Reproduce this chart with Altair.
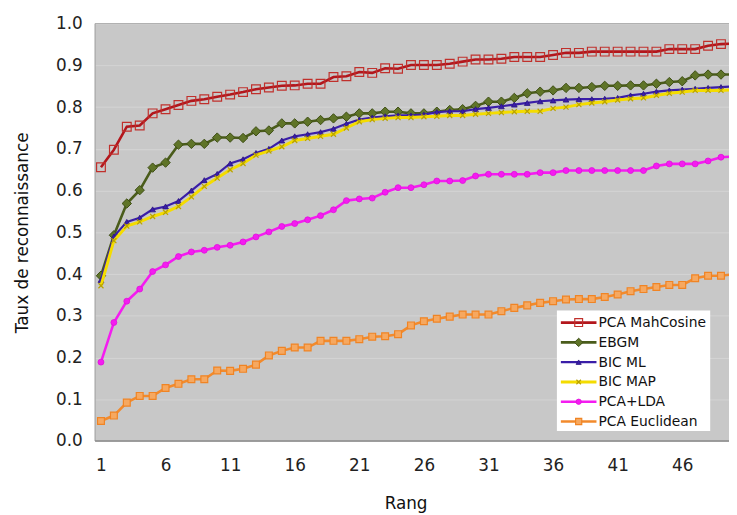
import altair as alt
import pandas as pd

# ---------------- data ----------------
ranks = list(range(1, 51))
series_names = ["PCA MahCosine", "EBGM", "BIC ML", "BIC MAP", "PCA+LDA", "PCA Euclidean"]
x_tick_values = [1, 6, 11, 16, 21, 26, 31, 36, 41, 46]
y_tick_values = [0.0, 0.1, 0.2, 0.3, 0.4, 0.5, 0.6, 0.7, 0.8, 0.9, 1.0]

pca_mahcosine = [0.656, 0.698, 0.753, 0.756, 0.785, 0.795, 0.805, 0.815, 0.819, 0.825,
                 0.830, 0.836, 0.843, 0.847, 0.851, 0.852, 0.856, 0.856, 0.872, 0.874,
                 0.884, 0.882, 0.893, 0.892, 0.901, 0.901, 0.901, 0.904, 0.909, 0.914,
                 0.914, 0.916, 0.920, 0.920, 0.920, 0.925, 0.930, 0.930, 0.933, 0.933,
                 0.933, 0.933, 0.933, 0.933, 0.939, 0.939, 0.939, 0.947, 0.951, 0.952]
ebgm = [0.396, 0.493, 0.569, 0.601, 0.655, 0.667, 0.710, 0.712, 0.712, 0.727,
        0.727, 0.726, 0.742, 0.744, 0.761, 0.761, 0.765, 0.769, 0.773, 0.777,
        0.785, 0.785, 0.789, 0.789, 0.785, 0.785, 0.789, 0.793, 0.795, 0.803,
        0.813, 0.813, 0.822, 0.833, 0.837, 0.840, 0.846, 0.846, 0.848, 0.851,
        0.851, 0.852, 0.852, 0.856, 0.860, 0.862, 0.876, 0.878, 0.878, 0.878]
bic_ml = [0.386, 0.490, 0.525, 0.535, 0.555, 0.562, 0.575, 0.600, 0.625, 0.640,
          0.665, 0.675, 0.690, 0.700, 0.720, 0.730, 0.735, 0.740, 0.748, 0.760,
          0.770, 0.775, 0.778, 0.780, 0.780, 0.782, 0.788, 0.790, 0.790, 0.795,
          0.798, 0.802, 0.806, 0.810, 0.814, 0.816, 0.818, 0.819, 0.819, 0.820,
          0.822, 0.828, 0.832, 0.837, 0.840, 0.842, 0.844, 0.846, 0.848, 0.850]
bic_map = [0.372, 0.480, 0.515, 0.525, 0.538, 0.548, 0.562, 0.585, 0.610, 0.630,
           0.650, 0.665, 0.685, 0.695, 0.705, 0.720, 0.725, 0.730, 0.735, 0.750,
           0.765, 0.770, 0.773, 0.775, 0.775, 0.777, 0.778, 0.780, 0.780, 0.783,
           0.785, 0.787, 0.789, 0.790, 0.790, 0.797, 0.800, 0.806, 0.810, 0.813,
           0.817, 0.820, 0.822, 0.828, 0.833, 0.836, 0.840, 0.840, 0.840, 0.842]
pca_lda = [0.189, 0.284, 0.335, 0.364, 0.406, 0.422, 0.442, 0.453, 0.457, 0.464,
           0.469, 0.477, 0.489, 0.501, 0.514, 0.521, 0.530, 0.540, 0.554, 0.576,
           0.580, 0.582, 0.596, 0.607, 0.607, 0.614, 0.623, 0.623, 0.624, 0.635,
           0.639, 0.639, 0.639, 0.639, 0.643, 0.643, 0.648, 0.648, 0.648, 0.648,
           0.648, 0.648, 0.648, 0.659, 0.664, 0.664, 0.664, 0.671, 0.680, 0.682]
pca_euclidean = [0.048, 0.061, 0.092, 0.108, 0.108, 0.127, 0.137, 0.148, 0.148, 0.169,
                 0.168, 0.173, 0.183, 0.205, 0.216, 0.224, 0.224, 0.240, 0.240, 0.240,
                 0.244, 0.250, 0.251, 0.256, 0.277, 0.287, 0.293, 0.298, 0.303, 0.303,
                 0.303, 0.311, 0.319, 0.325, 0.331, 0.335, 0.339, 0.340, 0.340, 0.345,
                 0.351, 0.359, 0.364, 0.369, 0.374, 0.374, 0.390, 0.396, 0.396, 0.400]

values = [pca_mahcosine, ebgm, bic_ml, bic_map, pca_lda, pca_euclidean]

# ---------------- styles ----------------
X_PATH = "M-1,-1L1,1M-1,1L1,-1"
styles = {
    "PCA MahCosine": dict(line="#b3161c", lw=2.6, shape="square", size=78, fill="none", stroke="#c0302c", sw=1.2),
    "EBGM": dict(line="#4a5c1b", lw=2.6, shape="diamond", size=90, fill="#5f7428", stroke="#3e4e14", sw=1.0),
    "BIC ML": dict(line="#3a1ea8", lw=2.2, shape="triangle-up", size=34, fill="#3a1ea8", stroke="#2a1480", sw=0.8),
    "BIC MAP": dict(line="#f4dc00", lw=3.0, shape=X_PATH, size=26, fill="none", stroke="#b8a200", sw=1.2),
    "PCA+LDA": dict(line="#f41cf0", lw=2.6, shape="circle", size=36, fill="#f41cf0", stroke="#e010dc", sw=0.8),
    "PCA Euclidean": dict(line="#f28a2c", lw=2.6, shape="square", size=48, fill="#f6a860", stroke="#f08424", sw=1.2),
}

W, H = 641, 422
X_DOMAIN = [0.541, 49.62]

x_enc = alt.X("rank:Q", scale=alt.Scale(domain=X_DOMAIN, nice=False, zero=False),
              axis=alt.Axis(values=x_tick_values, title="Rang", grid=False, ticks=False,
                            domain=False, labelPadding=17, labelFontSize=17,
                            titleFontSize=17, titleFontWeight="normal",
                            titleX=314, titleY=68, titleBaseline="alphabetic",
                            labelFlush=False))
y_enc = alt.Y("value:Q", scale=alt.Scale(domain=[0, 1], nice=False),
              axis=alt.Axis(values=y_tick_values, format=".1f", title="Taux de reconnaissance",
                            grid=True, gridColor="#d4d4d4", gridWidth=1, ticks=False,
                            domain=False, labelPadding=13, labelFontSize=17,
                            titleFontSize=17, titleFontWeight="normal",
                            titleX=-64, titleBaseline="bottom"))

one = pd.DataFrame({"k": [0]})

layers = []
for name, vals in zip(series_names, values):
    st = styles[name]
    d = pd.DataFrame({"rank": ranks, "value": vals, "series": name})
    layers.append(alt.Chart(d).mark_line(color=st["line"], strokeWidth=st["lw"], clip=True)
                  .encode(x=x_enc, y=y_enc))
    layers.append(alt.Chart(d).mark_point(shape=st["shape"], size=st["size"], fill=st["fill"],
                                          stroke=st["stroke"], strokeWidth=st["sw"],
                                          opacity=1, fillOpacity=1, filled=st["fill"] != "none",
                                          clip=True)
                  .encode(x=x_enc, y=y_enc))

# frame lines (left, top, bottom)
layers.append(alt.Chart(one).mark_rule(color="#9c9c9c", strokeWidth=1).encode(
    x=alt.value(0), y=alt.value(0), y2=alt.value(H)))
layers.append(alt.Chart(one).mark_rule(color="#a8a8a8", strokeWidth=1).encode(
    x=alt.value(0), x2=alt.value(W), y=alt.value(0)))
layers.append(alt.Chart(one).mark_rule(color="#8a8a8a", strokeWidth=1.5).encode(
    x=alt.value(0), x2=alt.value(W), y=alt.value(H)))

# legend box
LX0, LX1, LY0, LY1 = 467, 622, 290, 412
layers.append(alt.Chart(one).mark_rect(color="white").encode(
    x=alt.value(LX0), x2=alt.value(LX1), y=alt.value(LY0), y2=alt.value(LY1)))
legend_df = pd.DataFrame({"series": series_names})
for i, name in enumerate(series_names):
    st = styles[name]
    yy = 302.3 + 20 * i
    sub = alt.Chart(legend_df).transform_filter(alt.datum.series == name)
    layers.append(sub.mark_rule(color=st["line"], strokeWidth=st["lw"]).encode(
        x=alt.value(471), x2=alt.value(507), y=alt.value(yy)))
    layers.append(sub.mark_point(shape=st["shape"], size=st["size"] * 0.8, fill=st["fill"],
                                 stroke=st["stroke"], strokeWidth=st["sw"], opacity=1,
                                 fillOpacity=1, filled=st["fill"] != "none").encode(
        x=alt.value(489), y=alt.value(yy)))
    layers.append(sub.mark_text(align="left", baseline="middle", fontSize=14, color="#111111",
                                font="DejaVu Sans").encode(
        x=alt.value(509), y=alt.value(yy + 0.5), text="series:N"))

chart = alt.layer(*layers).properties(
    width=W, height=H,
    autosize=alt.AutoSizeParams(type="none"),
    padding={"left": 88, "top": 13, "right": 0, "bottom": 72},
).configure(font="DejaVu Sans", background="white").configure_view(
    stroke=None, fill="#c8c8c8"
).configure_axis(labelColor="#222222", titleColor="#111111", labelFont="DejaVu Sans",
                 titleFont="DejaVu Sans")

chart.save("out.html", embed_options={"renderer": "svg", "actions": False})
